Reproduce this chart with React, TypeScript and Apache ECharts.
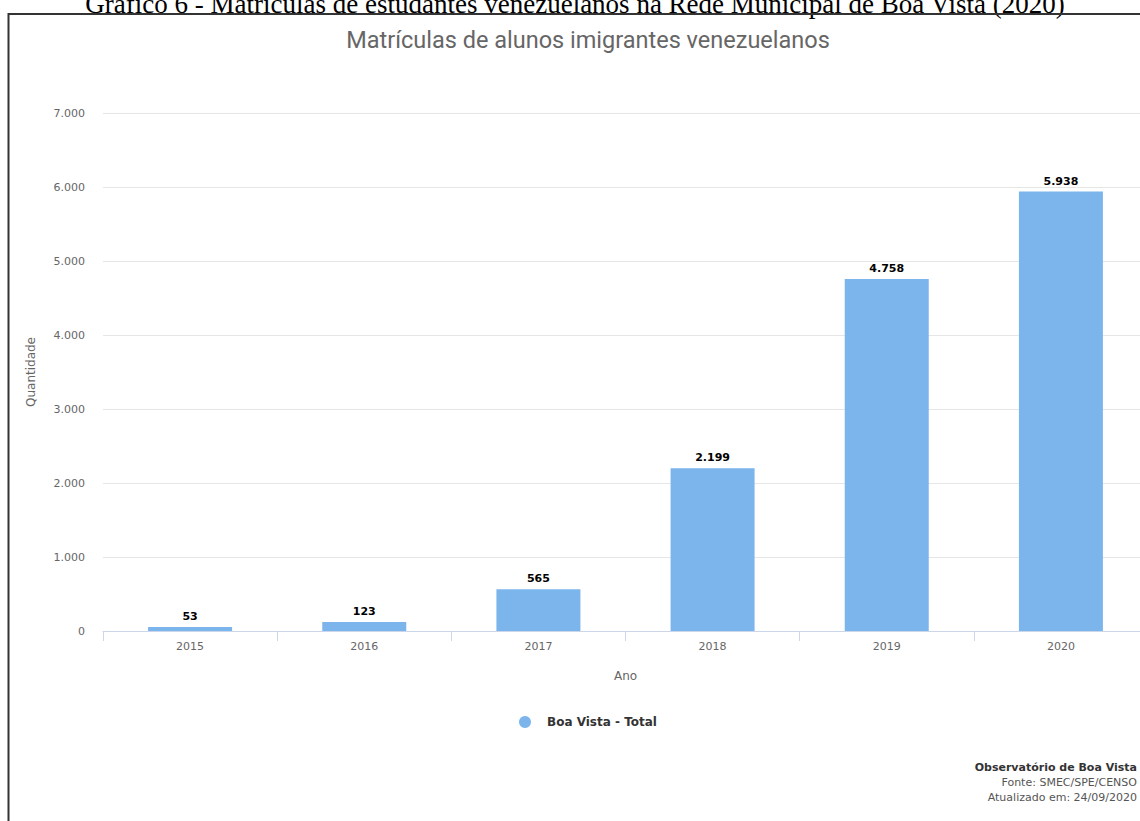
import React, { useEffect, useRef } from "react";
import * as echarts from "echarts";

const categories = ["2015", "2016", "2017", "2018", "2019", "2020"];
const values = [53, 123, 565, 2199, 4758, 5938];
const seriesName = "Boa Vista - Total";
const yTicks = [0, 1000, 2000, 3000, 4000, 5000, 6000, 7000];
const captionText = "Gráfico 6 - Matrículas de estudantes venezuelanos na Rede Municipal de Boa Vista (2020)";
const chartTitle = "Matrículas de alunos imigrantes venezuelanos";
const creditLines = ["Observatório de Boa Vista", "Fonte: SMEC/SPE/CENSO", "Atualizado em: 24/09/2020"];

const fmt = (v: number) => String(v).replace(/\B(?=(\d{3})+(?!\d))/g, ".");

const FONT = "'DejaVu Sans', Verdana, sans-serif";

export default function App() {
  const ref = useRef<HTMLDivElement>(null);
  useEffect(() => {
    if (!ref.current) return;
    const chart = echarts.init(ref.current, undefined, { renderer: "svg" });
    chart.setOption({
      animation: false,
      backgroundColor: "#ffffff",
      grid: { left: 103, top: 113, right: 12, height: 518, containLabel: false },
      legend: { show: false },
      xAxis: {
        type: "category",
        data: categories,
        boundaryGap: true,
        name: "Ano",
        nameLocation: "middle",
        nameGap: 39,
        nameTextStyle: { color: "#666666", fontSize: 12, fontFamily: FONT },
        axisLine: { lineStyle: { color: "#ccd6eb", width: 1 } },
        axisTick: { show: true, length: 10, lineStyle: { color: "#ccd6eb" } },
        axisLabel: { color: "#666666", fontSize: 11, fontFamily: FONT, margin: 10 },
        splitLine: { show: false },
      },
      yAxis: {
        type: "value",
        min: yTicks[0],
        max: yTicks[yTicks.length - 1],
        interval: 1000,
        name: "Quantidade",
        nameLocation: "middle",
        nameGap: 66,
        nameRotate: 90,
        nameTextStyle: { color: "#666666", fontSize: 12, fontFamily: FONT },
        axisLine: { show: false },
        axisTick: { show: false },
        axisLabel: { color: "#666666", fontSize: 11, fontFamily: FONT, margin: 18, formatter: (v: number) => fmt(v) },
        splitLine: { lineStyle: { color: "#e6e6e6", width: 1 } },
      },
      series: [
        {
          name: seriesName,
          type: "bar",
          data: values,
          barWidth: 84,
          itemStyle: { color: "#7cb5ec" },
          label: {
            show: true,
            position: "top",
            distance: 5,
            color: "#000000",
            fontWeight: "bold",
            fontSize: 11,
            fontFamily: FONT,
            formatter: (p: any) => fmt(p.value),
          },
        },
      ],
      graphic: [
        {
          type: "rect",
          shape: { x: 8.5, y: 14, width: 1400, height: 1000 },
          style: { fill: "none", stroke: "#333333", lineWidth: 2 },
          z: 100,
        },
        {
          type: "text",
          x: 575,
          y: 17,
          style: {
            text: captionText,
            fontFamily: "'Liberation Serif', 'Times New Roman', serif",
            fontSize: 27,
            fill: "#000000",
            textAlign: "center",
            textVerticalAlign: "bottom",
          },
        },
        {
          type: "text",
          x: 588,
          y: 40,
          style: {
            text: chartTitle,
            fontFamily: "'Liberation Sans Narrow', 'Roboto', sans-serif",
            fontSize: 23.5,
            fill: "#666666",
            textAlign: "center",
            textVerticalAlign: "middle",
          },
        },
        {
          type: "circle",
          shape: { cx: 525, cy: 722, r: 6 },
          style: { fill: "#7cb5ec" },
        },
        {
          type: "text",
          x: 547,
          y: 722,
          style: {
            text: seriesName,
            fontFamily: FONT,
            fontSize: 12,
            fontWeight: "bold",
            fill: "#333333",
            textAlign: "left",
            textVerticalAlign: "middle",
          },
        },
        {
          type: "text",
          x: 1137,
          y: 767,
          style: {
            text: creditLines[0],
            fontFamily: FONT,
            fontSize: 11,
            fontWeight: "bold",
            fill: "#333333",
            textAlign: "right",
            textVerticalAlign: "middle",
          },
        },
        {
          type: "text",
          x: 1137,
          y: 782,
          style: {
            text: creditLines[1],
            fontFamily: FONT,
            fontSize: 11,
            fill: "#555555",
            textAlign: "right",
            textVerticalAlign: "middle",
          },
        },
        {
          type: "text",
          x: 1137,
          y: 797,
          style: {
            text: creditLines[2],
            fontFamily: FONT,
            fontSize: 11,
            fill: "#555555",
            textAlign: "right",
            textVerticalAlign: "middle",
          },
        },
      ],
    });
    return () => chart.dispose();
  }, []);
  return (
    <div style={{ position: "fixed", left: 0, top: 0, width: 1140, height: 821, overflow: "hidden", background: "#fff" }}>
      <div ref={ref} style={{ position: "absolute", left: 0, top: 0, width: 1160, height: 821 }} />
    </div>
  );
}
